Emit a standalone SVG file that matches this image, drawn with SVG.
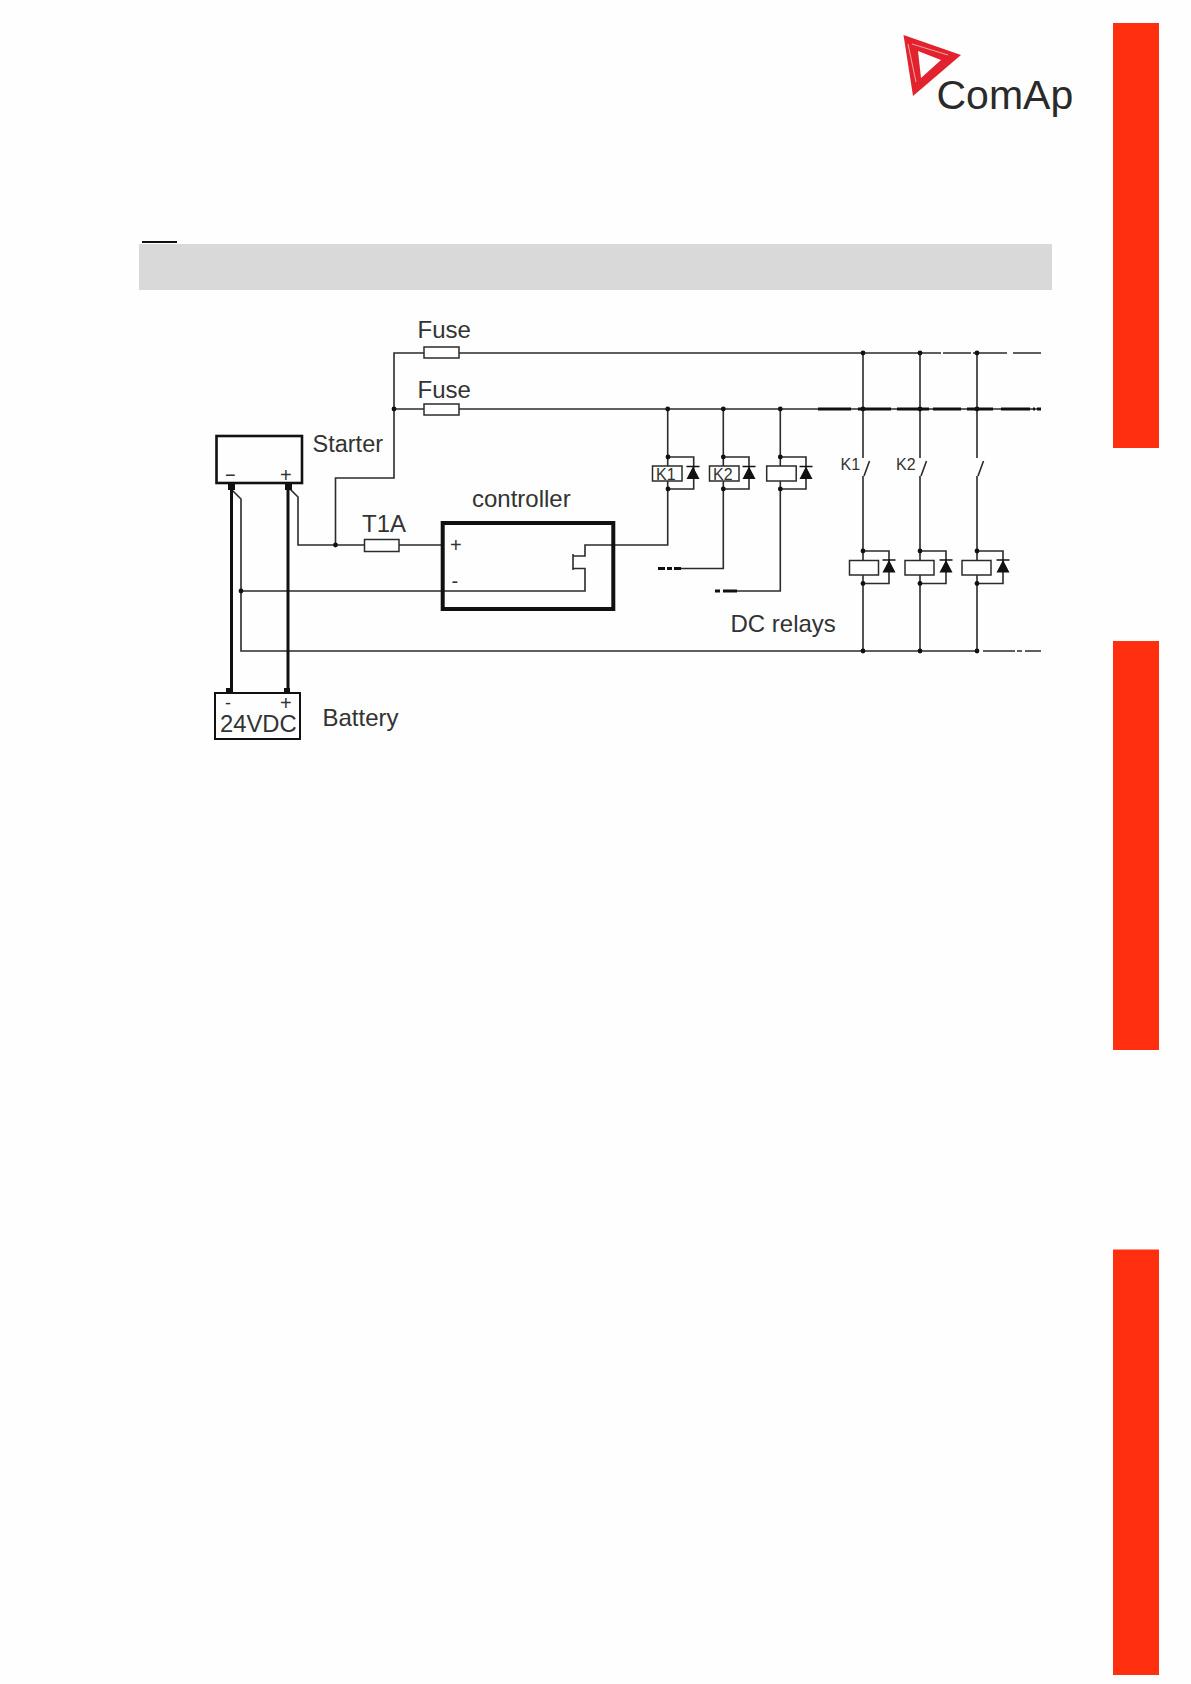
<svg xmlns="http://www.w3.org/2000/svg" width="1191" height="1684" viewBox="0 0 1191 1684">
<style>
text{font-family:"Liberation Sans",Arial,sans-serif;fill:#333}
.w{fill:none;stroke:#2b2b2b;stroke-width:1.6}
.t{fill:none;stroke:#111;stroke-width:3}
.b{fill:#fff;stroke:#2b2b2b;stroke-width:1.5}
.bar{fill:#ff2f10}
.lbl{font-size:24px}
.k{font-size:16px}
.s{font-size:20px}
</style>
<defs>
<g id="diode"><path d="M-6.5 12.5 L6.5 12.5 L0 0 Z" fill="#111"/><path d="M-6.5 0 H6.5" stroke="#111" stroke-width="1.5"/></g>
<circle id="dot" r="2.4" fill="#111"/>
</defs>
<rect width="1191" height="1684" fill="#fefefe"/>
<g id="sidebars">
<rect class="bar" x="1113" y="23" width="46" height="425"/>
<rect class="bar" x="1113" y="641" width="46" height="409"/>
<rect class="bar" x="1113" y="1249.5" width="46" height="425.5"/>
</g>
<g id="logo">
<path d="M903.5 35 L961 55 L913 96 Z" fill="#e2232e"/>
<path d="M918 51 L941 60 L921 78 Z" fill="#fff"/>
<path d="M908 44 L916 82 M912 44 L948 55" stroke="#f4a3a7" stroke-width="1" fill="none"/>
<text x="936.5" y="109" font-size="41" style="fill:#2a2a2a">ComAp</text>
</g>
<g id="header">
<rect x="142" y="241" width="35" height="2" fill="#111"/>
<rect x="139" y="244" width="913" height="46" fill="#d9d9d9"/>
</g>
<g id="connectors">
<path class="w" d="M459 353 H941 M943 353 H971 M973 353 H1007 M1013 353 H1041"/>
<path class="w" d="M394 409 H1041"/>
<path d="M818 409 H851 M858 409 H891 M897 409 H929 M933 409 H961 M967 409 H993 M1001 409 H1030 M1033 409 H1035 M1037 409 H1041" fill="none" stroke="#111" stroke-width="2.8"/>
<path class="w" d="M424 353 H394 V478 H335.5 V545 M364.5 545 H298 V497 L289 488 M399 545 H443"/>
<path class="w" d="M232 490 L241 499 V651 H978 M983 651 H1015 M1017 651 H1022 M1025 651 H1041"/>
<path class="w" d="M241 591 H585 V568.5 H573 M573 554 V570 M573 556 H585 V545 H667.7 V409"/>
<path class="w" d="M723.3 409 V568.5 H681 M780.3 409 V591 H737"/>
<path d="M658 568.5 H665 M667 568.5 H672 M674 568.5 H681 M715 591 H720 M723 591 H737" fill="none" stroke="#111" stroke-width="2.8"/>
<path class="t" d="M231.5 487 V692 M288 487 V692"/>
<path class="w" d="M863 353 V458 M869.5 461 L864 476 M863 476 V651"/>
<path class="w" d="M920 353 V458 M926.5 461 L921 476 M920 476 V651"/>
<path class="w" d="M977 353 V458 M983.5 461 L978 476 M977 476 V651"/>
<use href="#dot" x="394" y="409"/>
<use href="#dot" x="335.5" y="545"/>
<use href="#dot" x="241" y="591"/>
<use href="#dot" x="667.7" y="409"/>
<use href="#dot" x="723.3" y="409"/>
<use href="#dot" x="780.3" y="409"/>
<use href="#dot" x="863" y="353"/>
<use href="#dot" x="920" y="353"/>
<use href="#dot" x="977" y="353"/>
<use href="#dot" x="863" y="409"/>
<use href="#dot" x="920" y="409"/>
<use href="#dot" x="977" y="409"/>
<use href="#dot" x="863" y="651"/>
<use href="#dot" x="920" y="651"/>
<use href="#dot" x="977" y="651"/>
</g>
<g id="fuse1"><rect class="b" x="424" y="347" width="35" height="11"/><text class="lbl" x="417.5" y="338">Fuse</text></g>
<g id="fuse2"><rect class="b" x="424" y="404" width="35" height="11"/><text class="lbl" x="417.5" y="398">Fuse</text></g>
<g id="fuse3"><rect class="b" x="364.5" y="539.5" width="34.5" height="12"/><text class="lbl" x="362" y="532">T1A</text></g>
<g id="starter">
<rect x="216.5" y="436" width="85.5" height="47" fill="none" stroke="#111" stroke-width="2.6"/>
<rect x="228" y="484" width="7" height="6" fill="#111"/><rect x="285" y="484" width="7" height="6" fill="#111"/>
<text x="225" y="481" style="font-size:18px">−</text><text class="s" x="280" y="482">+</text>
<text class="lbl" x="312.5" y="451.5" style="font-size:23.5px">Starter</text>
</g>
<g id="battery">
<rect x="215" y="693" width="85" height="46" fill="none" stroke="#111" stroke-width="2"/>
<rect x="226" y="688" width="6" height="5" fill="#111"/><rect x="284" y="688" width="6" height="5" fill="#111"/>
<text x="225" y="709" style="font-size:18px">-</text><text class="s" x="280" y="710">+</text>
<text x="220" y="732" style="font-size:23.8px">24VDC</text>
<text class="lbl" x="322.5" y="725.5">Battery</text>
</g>
<g id="controller">
<rect x="442.7" y="523" width="170.6" height="86" fill="none" stroke="#111" stroke-width="4"/>
<text class="s" x="450" y="552">+</text><text class="s" x="451.5" y="588">-</text>
<text class="lbl" x="472" y="507">controller</text>
</g>
<g id="relay1">
<path class="w" d="M668 457 H693.7 V489 H668"/><use href="#dot" x="668" y="457"/><use href="#dot" x="668" y="489"/>
<use href="#diode" x="693" y="466.5"/>
<rect class="b" x="652.5" y="466" width="29.5" height="15"/><text class="k" x="656" y="479.5">K1</text>
</g>
<g id="relay2">
<path class="w" d="M723.3 457 H749 V489 H723.3"/><use href="#dot" x="723.3" y="457"/><use href="#dot" x="723.3" y="489"/>
<use href="#diode" x="749" y="466.5"/>
<rect class="b" x="709.5" y="466" width="29.5" height="15"/><text class="k" x="713" y="479.5">K2</text>
</g>
<g id="relay3">
<path class="w" d="M780.3 457 H806 V489 H780.3"/><use href="#dot" x="780.3" y="457"/><use href="#dot" x="780.3" y="489"/>
<use href="#diode" x="806" y="466.5"/>
<rect class="b" x="766.7" y="466" width="29.5" height="15"/>
</g>
<g id="relay4">
<path class="w" d="M863 551 H889 V583.5 H863"/><use href="#dot" x="863" y="551"/><use href="#dot" x="863" y="583.5"/>
<use href="#diode" x="889" y="560"/>
<rect class="b" x="849.5" y="560.5" width="29" height="14.5"/>
<text class="k" x="840.5" y="470">K1</text>
</g>
<g id="relay5">
<path class="w" d="M920 551 H946 V583.5 H920"/><use href="#dot" x="920" y="551"/><use href="#dot" x="920" y="583.5"/>
<use href="#diode" x="946" y="560"/>
<rect class="b" x="905" y="560.5" width="29" height="14.5"/>
<text class="k" x="896" y="470">K2</text>
</g>
<g id="relay6">
<path class="w" d="M977 551 H1003 V583.5 H977"/><use href="#dot" x="977" y="551"/><use href="#dot" x="977" y="583.5"/>
<use href="#diode" x="1003" y="560"/>
<rect class="b" x="962" y="560.5" width="29" height="14.5"/>
</g>
<text id="dc-relays" class="lbl" x="730.5" y="632">DC relays</text>
</svg>
